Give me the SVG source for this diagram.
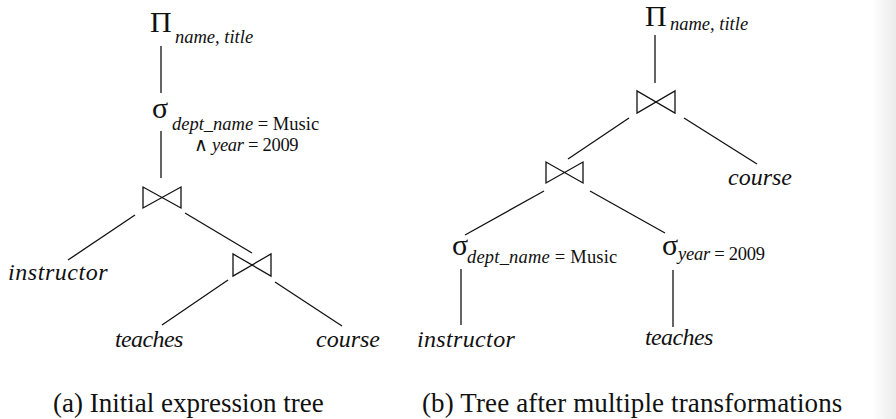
<svg xmlns="http://www.w3.org/2000/svg" width="896" height="419" viewBox="0 0 896 419">
<style>
text{fill:#111}
.op{font-size:30px}
.sub{font-size:18.5px}
.it{font-style:italic}
.rel{font-size:24px;font-style:italic}
.cap{font-size:27px}
.ln{stroke:#111;stroke-width:1.3;fill:none}
.bow{stroke:#111;stroke-width:1.3;fill:none;stroke-linejoin:miter}
</style>
<defs>
<linearGradient id="edge" x1="0" x2="1" y1="0" y2="0">
<stop offset="0" stop-color="#ffffff"/>
<stop offset="1" stop-color="#ebebeb"/>
</linearGradient>
</defs>
<rect width="896" height="419" fill="#ffffff"/>
<rect x="872" y="0" width="24" height="419" fill="url(#edge)"/>

<g id="connectors">
<line class="ln" x1="161" y1="46" x2="161" y2="93"/>
<line class="ln" x1="161" y1="131" x2="161" y2="178"/>
<line class="ln" x1="135" y1="215" x2="68" y2="260"/>
<line class="ln" x1="185" y1="213" x2="252" y2="253"/>
<line class="ln" x1="228" y1="280" x2="162" y2="325"/>
<line class="ln" x1="275" y1="282" x2="342" y2="326"/>
<line class="ln" x1="655" y1="35" x2="655" y2="83"/>
<line class="ln" x1="629" y1="118" x2="568" y2="159"/>
<line class="ln" x1="684" y1="118" x2="757" y2="164"/>
<line class="ln" x1="544" y1="191" x2="465" y2="235"/>
<line class="ln" x1="590" y1="191" x2="665" y2="233"/>
<line class="ln" x1="461" y1="269" x2="461" y2="325"/>
<line class="ln" x1="673" y1="270" x2="673" y2="327"/>
</g>

<g id="a-project">
<text class="op" font-family="Liberation Serif" x="150" y="32">Π</text>
<text class="sub it" font-family="Liberation Serif" x="175" y="43">name, title</text>
</g>
<g id="a-select">
<text class="op" font-family="Liberation Serif" x="152" y="118">σ</text>
<text class="sub" font-family="Liberation Serif" x="172" y="130"><tspan class="it">dept_name</tspan> = Music</text>
<text class="sub" font-family="Liberation Serif" x="194" y="151" letter-spacing="-0.3">∧ <tspan class="it">year</tspan> = 2009</text>
</g>
<g id="a-join1">
<path class="bow" d="M143,187 V208 L181,187 V208 Z"/>
</g>
<g id="a-instructor">
<text class="rel" font-family="Liberation Serif" x="8" y="280" letter-spacing="0.55">instructor</text>
</g>
<g id="a-join2">
<path class="bow" d="M233,254 V276 L271,254 V276 Z"/>
</g>
<g id="a-teaches">
<text class="rel" font-family="Liberation Serif" x="115" y="347" letter-spacing="-0.6">teaches</text>
</g>
<g id="a-course">
<text class="rel" font-family="Liberation Serif" x="316" y="347">course</text>
</g>
<g id="a-caption">
<text class="cap" font-family="Liberation Serif" x="53" y="412">(a) Initial expression tree</text>
</g>

<g id="b-project">
<text class="op" font-family="Liberation Serif" x="645" y="26">Π</text>
<text class="sub it" font-family="Liberation Serif" x="670" y="30">name, title</text>
</g>
<g id="b-join1">
<path class="bow" d="M637,91 V113 L675,91 V113 Z"/>
</g>
<g id="b-course">
<text class="rel" font-family="Liberation Serif" x="728" y="185">course</text>
</g>
<g id="b-join2">
<path class="bow" d="M546,162 V183 L583,162 V183 Z"/>
</g>
<g id="b-select-dept">
<text class="op" font-family="Liberation Serif" x="452" y="255">σ</text>
<text class="sub" font-family="Liberation Serif" x="467" y="263" letter-spacing="0.2"><tspan class="it">dept_name</tspan> = Music</text>
</g>
<g id="b-select-year">
<text class="op" font-family="Liberation Serif" x="662" y="255">σ</text>
<text class="sub" font-family="Liberation Serif" x="678" y="260" letter-spacing="-0.25"><tspan class="it">year</tspan> = 2009</text>
</g>
<g id="b-instructor">
<text class="rel" font-family="Liberation Serif" x="417" y="347" letter-spacing="0.35">instructor</text>
</g>
<g id="b-teaches">
<text class="rel" font-family="Liberation Serif" x="645" y="345" letter-spacing="-0.6">teaches</text>
</g>
<g id="b-caption">
<text class="cap" font-family="Liberation Serif" x="422" y="412" letter-spacing="0.13">(b) Tree after multiple transformations</text>
</g>
</svg>
